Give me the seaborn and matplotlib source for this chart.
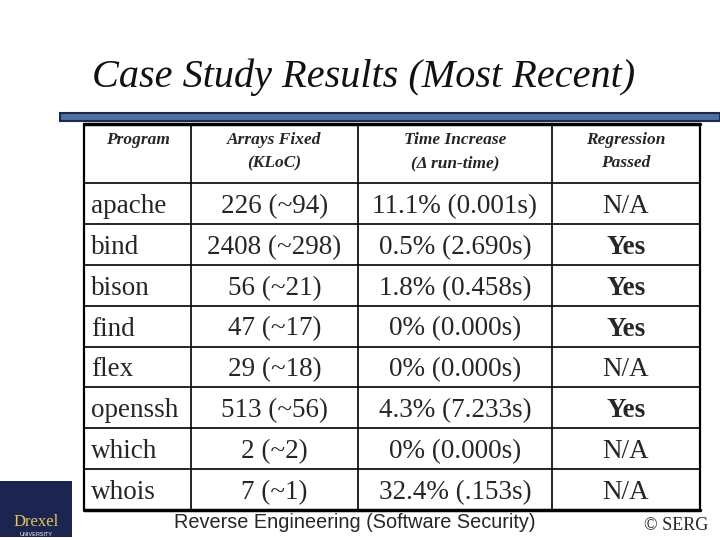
import matplotlib
matplotlib.use("Agg")
import matplotlib.pyplot as plt
import seaborn as sns
from matplotlib.patches import Rectangle

sns.set_theme(style="white")

headers = ["Program", "Arrays Fixed\n(KLoC)", "Time Increase\n(\u0394 run-time)", "Regression\nPassed"]
programs = ["apache", "bind", "bison", "find", "flex", "openssh", "which", "whois"]
arrays_fixed = ["226 (~94)", "2408 (~298)", "56 (~21)", "47 (~17)", "29 (~18)", "513 (~56)", "2 (~2)", "7 (~1)"]
time_increase = ["11.1% (0.001s)", "0.5% (2.690s)", "1.8% (0.458s)", "0% (0.000s)", "0% (0.000s)",
                 "4.3% (7.233s)", "0% (0.000s)", "32.4% (.153s)"]
regression = ["N/A", "Yes", "Yes", "Yes", "N/A", "Yes", "N/A", "N/A"]

fig = plt.figure(figsize=(7.2, 5.4), dpi=100)
ax = fig.add_axes([0, 0, 1, 1])
ax.set_xlim(0, 720); ax.set_ylim(540, 0); ax.axis("off")
serif = "Liberation Serif"

ax.text(364, 77, "Case Study Results (Most Recent)", ha="center", va="center",
        fontsize=29, fontstyle="italic", family=serif, color="#111111")
ax.add_patch(Rectangle((60, 113), 660, 8, facecolor="#4f6f9f", edgecolor="#1a2a4a", lw=1.5))

cols = [84, 191, 358, 552, 700]
top, hb = 124, 183
rh = (510 - hb) / 8
for x in cols:
    ax.plot([x, x], [top, 510], color="black", lw=1.6 if x in (84, 700) else 1.2)
ax.plot([84, 700], [top, top], color="black", lw=2.5)
ax.plot([84, 700], [510, 510], color="black", lw=2.5)
ax.plot([84, 700], [hb, hb], color="black", lw=1.2)
for i in range(1, 8):
    y = hb + i * rh
    ax.plot([84, 700], [y, y], color="black", lw=1.2)

for j, h in enumerate(headers):
    cx = (cols[j] + cols[j + 1]) / 2
    ax.text(cx if j else 138, 132, h, ha="center", va="top", fontsize=12.5, fontweight="bold",
            fontstyle="italic", family=serif, linespacing=1.6)

for i in range(8):
    cy = hb + (i + 0.5) * rh + 3
    ax.text(91, cy, programs[i], ha="left", va="center", fontsize=19.5, family=serif)
    ax.text((cols[1] + cols[2]) / 2, cy, arrays_fixed[i], ha="center", va="center", fontsize=19.5, family=serif)
    ax.text((cols[2] + cols[3]) / 2, cy, time_increase[i], ha="center", va="center", fontsize=19.5, family=serif)
    ax.text((cols[3] + cols[4]) / 2, cy, regression[i], ha="center", va="center", fontsize=19.5, family=serif,
            fontweight="bold" if regression[i] == "Yes" else "normal")

ax.text(355, 522, "Reverse Engineering (Software Security)", ha="center", va="center",
        fontsize=14.3, family="Liberation Sans")
ax.text(676, 525, "\u00a9 SERG", ha="center", va="center", fontsize=13, family=serif)

ax.add_patch(Rectangle((0, 481), 72, 56, facecolor="#1c2550", edgecolor="none"))
ax.text(36, 522, "Drexel", ha="center", va="center", fontsize=12, family=serif, color="#e8c060")
ax.text(36, 534, "UNIVERSITY", ha="center", va="center", fontsize=4, family="Liberation Sans", color="white")

fig.savefig("out.png", dpi=100, facecolor="white")
